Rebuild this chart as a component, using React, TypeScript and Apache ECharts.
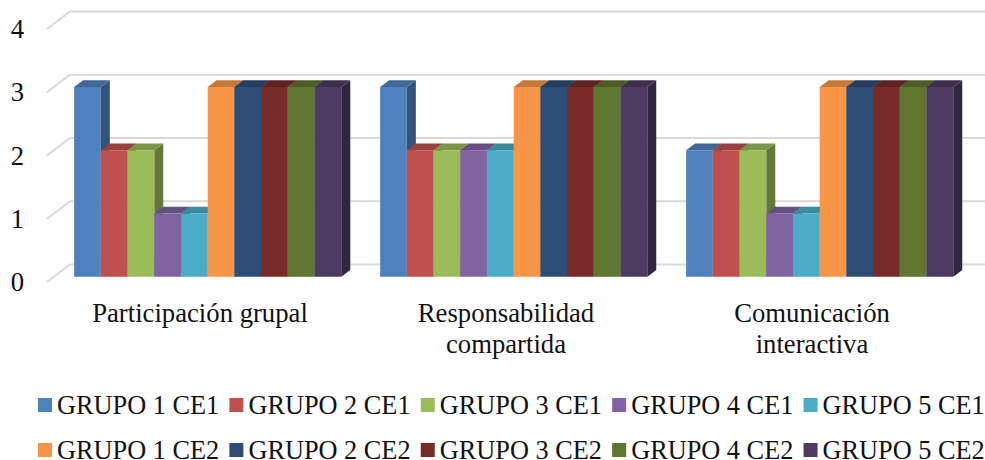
import React, { useEffect, useRef } from "react";
import * as echarts from "echarts";

const categories = ["Participación grupal", "Responsabilidad\ncompartida", "Comunicación\ninteractiva"];
const tickValues = [0, 1, 2, 3, 4];

const grupo1Ce1 = [3, 3, 2];
const grupo2Ce1 = [2, 2, 2];
const grupo3Ce1 = [2, 2, 2];
const grupo4Ce1 = [1, 2, 1];
const grupo5Ce1 = [1, 2, 1];
const grupo1Ce2 = [3, 3, 3];
const grupo2Ce2 = [3, 3, 3];
const grupo3Ce2 = [3, 3, 3];
const grupo4Ce2 = [3, 3, 3];
const grupo5Ce2 = [3, 3, 3];

const seriesList: [string, number[], string][] = [
  ["GRUPO 1 CE1", grupo1Ce1, "#4F81BD"],
  ["GRUPO 2 CE1", grupo2Ce1, "#C0504D"],
  ["GRUPO 3 CE1", grupo3Ce1, "#9BBB59"],
  ["GRUPO 4 CE1", grupo4Ce1, "#8064A2"],
  ["GRUPO 5 CE1", grupo5Ce1, "#4BACC6"],
  ["GRUPO 1 CE2", grupo1Ce2, "#F79646"],
  ["GRUPO 2 CE2", grupo2Ce2, "#2C4D75"],
  ["GRUPO 3 CE2", grupo3Ce2, "#772C2A"],
  ["GRUPO 4 CE2", grupo4Ce2, "#5F7530"],
  ["GRUPO 5 CE2", grupo5Ce2, "#4D3B62"],
];

const FONT = "'Liberation Serif', 'Times New Roman', serif";
const TEXT = "#111111";
const WALL = "#d9d9d9";

// Oblique projection of the pseudo-3D scene, in pixels.
const WALL_DX = 23;
const WALL_DY = 17.5;
const BAR_DX = 9;
const BAR_DY = 6.7;
const BAR_LIFT = 5.3; // bars stand a little behind the front edge of the floor
const BAR_SHIFT = 7.7;
const BAR_RATIO = 0.0873; // bar width as a share of the category band

function shade(hex: string, k: number) {
  const n = parseInt(hex.slice(1), 16);
  const c = [(n >> 16) & 255, (n >> 8) & 255, n & 255].map((v) => Math.round(v * k));
  return `rgb(${c[0]},${c[1]},${c[2]})`;
}

// Floor edge and back wall line for one tick value.
function renderWall(params: any, api: any) {
  const cs = params.coordSys;
  const y = api.coord([0, api.value(1)])[1];
  return {
    type: "polyline",
    silent: true,
    shape: {
      points: [
        [cs.x, y],
        [cs.x + WALL_DX, y - WALL_DY],
        [cs.x + cs.width + WALL_DX, y - WALL_DY],
      ],
    },
    style: { stroke: WALL, lineWidth: 2, fill: "none" },
  };
}

// One box: front face, top face and right side.
function makeBarRenderer(seriesIdx: number, color: string) {
  return (_params: any, api: any) => {
    const cat = api.value(0);
    const top = api.coord([cat, api.value(1)]);
    const base = api.coord([cat, 0]);
    const band = api.size([1, 0])[0];
    const w = band * BAR_RATIO;
    const x = top[0] + BAR_SHIFT + (seriesIdx - seriesList.length / 2) * w;
    const yT = top[1] - BAR_LIFT;
    const yB = base[1] - BAR_LIFT;
    return {
      type: "group",
      children: [
        {
          type: "polygon",
          shape: { points: [[x + w, yT], [x + w + BAR_DX, yT - BAR_DY], [x + w + BAR_DX, yB - BAR_DY], [x + w, yB]] },
          style: { fill: shade(color, 0.64) },
        },
        {
          type: "polygon",
          shape: { points: [[x, yT], [x + BAR_DX, yT - BAR_DY], [x + w + BAR_DX, yT - BAR_DY], [x + w, yT]] },
          style: { fill: shade(color, 0.8) },
        },
        {
          type: "rect",
          shape: { x, y: yT, width: w, height: yB - yT },
          style: { fill: color },
        },
      ],
    };
  };
}

const legendBase = {
  left: 38,
  icon: "rect",
  itemWidth: 14,
  itemHeight: 14,
  itemGap: 10.2,
  orient: "horizontal",
  padding: 0,
  selectedMode: false,
  textStyle: { fontFamily: FONT, fontSize: 26.3, color: TEXT, lineHeight: 22 },
};

export default function App() {
  const ref = useRef<HTMLDivElement>(null);

  useEffect(() => {
    const chart = echarts.init(ref.current!, undefined, { renderer: "svg" });
    chart.setOption({
      animation: false,
      backgroundColor: "#fff",
      textStyle: { fontFamily: FONT },
      grid: { left: 47, right: 20, top: 29, bottom: 178, containLabel: false },
      xAxis: {
        type: "category",
        data: categories,
        axisLine: { show: false },
        axisTick: { show: false },
        axisLabel: { fontFamily: FONT, fontSize: 26.7, color: TEXT, lineHeight: 31, margin: 15, interval: 0 },
      },
      yAxis: {
        type: "value",
        min: 0,
        max: 4,
        interval: 1,
        axisLine: { show: false },
        axisTick: { show: false },
        splitLine: { show: false },
        axisLabel: { fontFamily: FONT, fontSize: 26.7, color: TEXT, margin: 23 },
      },
      legend: [
        { ...legendBase, top: 392, data: seriesList.slice(0, 5).map((s) => s[0]) },
        { ...legendBase, top: 437, data: seriesList.slice(5).map((s) => s[0]) },
      ],
      series: [
        {
          type: "custom",
          name: "walls",
          silent: true,
          clip: false,
          z: 1,
          data: tickValues.map((v) => [0, v]),
          encode: { x: 0, y: 1 },
          renderItem: renderWall,
        },
        ...seriesList.map(([name, values, color], i) => ({
          type: "custom",
          name,
          clip: false,
          z: 2,
          itemStyle: { color },
          data: values.map((v, c) => [c, v]),
          encode: { x: 0, y: 1 },
          renderItem: makeBarRenderer(i, color),
        })),
      ],
    });
    return () => chart.dispose();
  }, []);

  return <div ref={ref} style={{ position: "absolute", left: 0, top: 0, width: 985, height: 460 }} />;
}
